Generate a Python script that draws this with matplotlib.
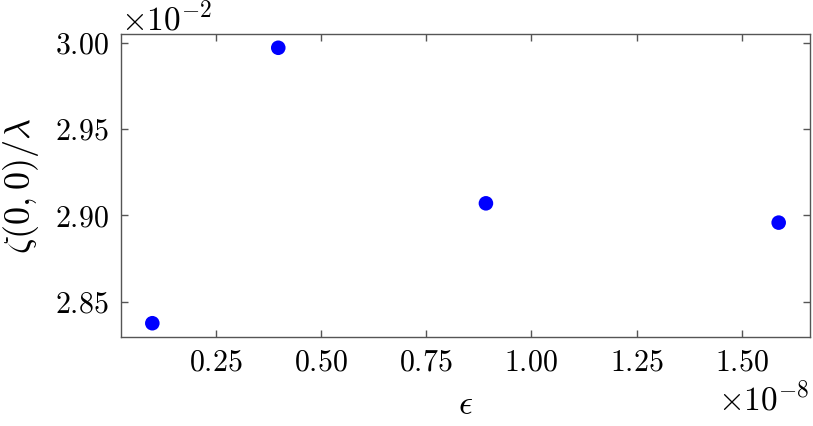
import matplotlib
matplotlib.use("Agg")
import matplotlib.pyplot as plt

plt.rcParams['mathtext.fontset'] = 'cm'
plt.rcParams['font.family'] = 'serif'
plt.rcParams['font.serif'] = ['cmr10', 'DejaVu Serif']
plt.rcParams['axes.formatter.use_mathtext'] = True
plt.rcParams['axes.unicode_minus'] = False

epsilon = [0.100e-8, 0.399e-8, 0.892e-8, 1.587e-8]
zeta = [2.8374e-2, 2.9973e-2, 2.9070e-2, 2.8958e-2]

fig = plt.figure(figsize=(8.13, 4.26), dpi=100)
ax = fig.add_axes([121/813, 1-337/426, (810-121)/813, (337-34)/426])
ax.scatter(epsilon, zeta, s=110, color='#0000ff', edgecolors='none', zorder=3)

ax.set_xlabel(r'$\epsilon$', fontsize=25, labelpad=9)
ax.set_ylabel(r'$\zeta(0,0)/\lambda$', fontsize=26, labelpad=10)

ax.ticklabel_format(style='sci', scilimits=(0, 0), axis='both')
ax.tick_params(direction='in', top=True, right=True, labelsize=21.5,
               color='#555555', length=5, width=1, pad=9)
for sp in ax.spines.values():
    sp.set_color('#555555')
    sp.set_linewidth(1)
ax.xaxis.get_offset_text().set_fontsize(24)
ax.yaxis.get_offset_text().set_fontsize(24)
ax.set_yticks([0.0285, 0.0290, 0.0295, 0.0300])
ax.set_xticks([0.25e-8, 0.5e-8, 0.75e-8, 1.0e-8, 1.25e-8, 1.5e-8])

fig.savefig('out.png', dpi=100)
